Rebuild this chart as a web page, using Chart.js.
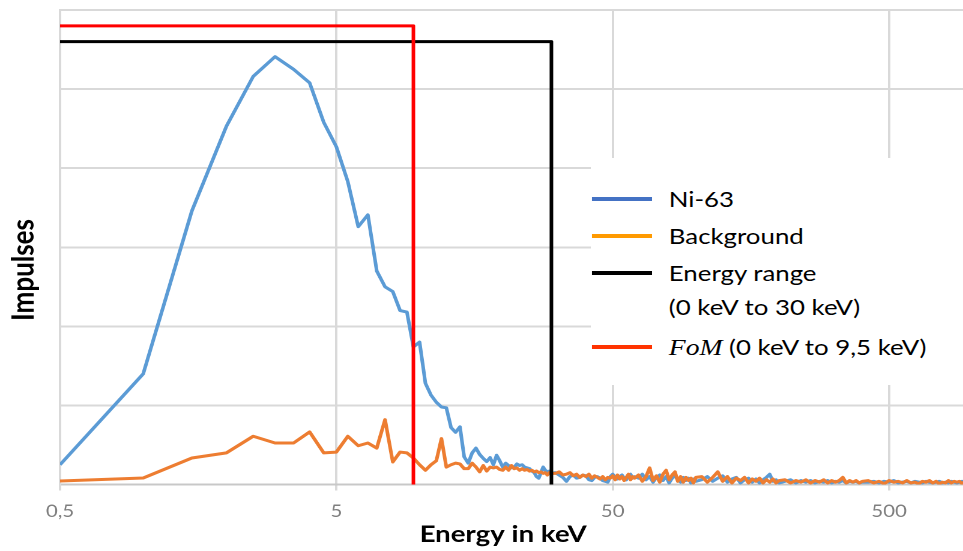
<!DOCTYPE html>
<html>
<head>
<meta charset="utf-8">
<script src="https://cdn.jsdelivr.net/npm/chart.js@4.4.1/dist/chart.umd.min.js"></script>
<style>
html,body{margin:0;padding:0;background:#fff;overflow:hidden;width:963px;height:551px;}
#wrap{position:relative;width:802px;height:551px;background:#fff;transform:scaleX(1.20075);transform-origin:0 0;}
canvas{display:block;}
#legend{position:absolute;left:492px;top:158px;width:311px;height:226px;background:#fff;font-family:Lato,"Open Sans",sans-serif;font-size:21.5px;color:#000;}
.sw{position:absolute;left:1px;width:50px;height:4px;}
.tx{position:absolute;left:65px;white-space:nowrap;height:34px;line-height:34px;}
.fom{font-family:"Liberation Serif","DejaVu Serif",serif;font-style:italic;font-size:23px;}
</style>
</head>
<body>
<div id="wrap">
<canvas id="c" width="802" height="551"></canvas>
<div id="legend">
  <div class="sw" style="top:39px;background:#4472C4"></div>
  <div class="tx" style="top:24px">Ni-63</div>
  <div class="sw" style="top:76px;background:#FF9A00"></div>
  <div class="tx" style="top:61px">Background</div>
  <div class="sw" style="top:113px;background:#000000"></div>
  <div class="tx" style="top:98px">Energy range</div>
  <div class="tx" style="top:132px">(0 keV to 30 keV)</div>
  <div class="sw" style="top:187px;background:#FF3300"></div>
  <div class="tx" style="top:172px"><span class="fom">FoM</span> (0 keV to 9,5 keV)</div>
</div>
</div>
<script>
// Energy bins (keV)
const energy = [
  0.5,1,1.5,2,2.5,3,3.5,4,4.5,5,5.5,6,6.5,7,7.5,8,8.5,9,9.5,10,10.5,11,11.5,12,12.5,13,13.5,14,14.5,
  15,15.5,16,16.5,17,17.5,18,18.5,19,19.5,20,20.5,21,21.5,22,22.5,23,23.5,24,24.5,25,25.5,26,26.5,27,27.5,28,28.5,29,29.5,30,
  31,32,33,34,35,36,37,38,39,40,41,42,43,44,45,46,47,48,49,50,51,52,53,54,55,56,57,58,59,60,
  62,64,66,68,70,72,74,76,78,80,82,84,86,88,90,92,94,96,98,100,
  105,110,115,120,125,130,135,140,145,150,155,160,165,170,175,180,185,190,195,200,
  210,220,230,240,250,260,270,280,290,300,310,320,330,340,350,360,370,380,390,400,
  420,440,460,480,500,520,540,560,580,600,620,640,660,680,700,720,740,760,780,800,820,840,860,880,900,920,940,960
];
// Ni-63 spectrum (impulses, arbitrary units)
const ni63 = [
  0.25,1.40,3.46,4.53,5.16,5.41,5.25,5.08,4.58,4.27,3.83,3.26,3.41,2.70,2.50,2.44,2.20,2.18,1.74,1.80,1.28,1.13,1.04,0.98,0.97,0.72,0.66,0.73,0.35,
  0.27,0.40,0.46,0.38,0.33,0.29,0.34,0.25,0.37,0.30,0.22,0.27,0.24,0.21,0.22,0.26,0.24,0.25,0.22,0.21,0.20,0.17,0.15,0.10,0.08,0.15,0.22,0.18,0.16,0.17,0.14,
  0.15,0.12,0.09,0.04,0.10,0.12,0.08,0.09,0.12,0.11,0.06,0.05,0.09,0.10,0.08,0.05,0.04,0.03,0.10,0.13,0.09,0.07,0.10,0.12,0.08,0.06,0.11,0.13,0.08,0.10,
  0.08,0.13,0.06,0.10,0.03,0.09,0.12,0.05,0.10,0.02,0.08,0.11,0.06,0.03,0.09,0.05,0.08,0.02,0.07,0.04,
  0.06,0.10,0.04,0.08,0.11,0.03,0.07,0.09,0.02,0.06,0.08,0.03,0.07,0.02,0.06,0.09,0.13,0.04,0.06,0.02,
  0.04,0.06,0.02,0.05,0.03,0.05,0.02,0.04,0.03,0.05,0.02,0.04,0.03,0.05,0.02,0.04,0.03,0.04,0.02,0.03,
  0.03,0.04,0.02,0.04,0.03,0.05,0.02,0.03,0.04,0.02,0.04,0.03,0.02,0.04,0.03,0.02,0.03,0.04,0.02,0.03,0.02,0.04,0.03,0.02,0.03,0.04,0.02,0.03
];
// Background spectrum
const background = [
  0.044,0.082,0.335,0.40,0.61,0.525,0.525,0.665,0.40,0.41,0.61,0.49,0.525,0.46,0.82,0.285,0.41,0.40,0.335,0.25,0.18,0.25,0.30,0.58,0.22,0.25,0.27,0.26,0.20,
  0.20,0.27,0.22,0.16,0.24,0.17,0.22,0.21,0.22,0.19,0.18,0.22,0.18,0.24,0.20,0.21,0.18,0.20,0.18,0.19,0.17,0.18,0.16,0.17,0.15,0.16,0.14,0.15,0.12,0.15,0.14,
  0.14,0.16,0.12,0.13,0.15,0.11,0.13,0.09,0.12,0.10,0.13,0.08,0.11,0.09,0.07,0.10,0.06,0.09,0.08,0.11,0.06,0.12,0.07,0.10,0.05,0.09,0.13,0.06,0.10,0.08,
  0.12,0.04,0.10,0.21,0.05,0.11,0.03,0.13,0.18,0.06,0.12,0.16,0.04,0.10,0.03,0.09,0.05,0.08,0.02,0.09,
  0.10,0.03,0.09,0.16,0.04,0.10,0.02,0.08,0.05,0.09,0.02,0.07,0.04,0.08,0.02,0.06,0.03,0.07,0.02,0.05,
  0.06,0.02,0.05,0.03,0.06,0.02,0.05,0.03,0.06,0.02,0.05,0.03,0.05,0.09,0.02,0.05,0.03,0.05,0.02,0.04,
  0.05,0.02,0.04,0.01,0.05,0.03,0.04,0.02,0.05,0.02,0.03,0.01,0.04,0.03,0.05,0.02,0.04,0.01,0.03,0.02,0.05,0.02,0.04,0.03,0.04,0.01,0.04,0.02
];
// Window markers
const rangeX = [0.5, 30, 30];
const rangeY = [5.6, 5.6, 0];
const fomX = [0.5, 9.5, 9.5];
const fomY = [5.8, 5.8, 0];
// Axis ticks and titles
const xTickValues = [0.5, 5, 50, 500];
const xTickLabels = ['0,5', '5', '50', '500'];
const xTitle = 'Energy in keV';
const yTitleText = 'Impulses';

const pts = (xs, ys) => xs.map((x, i) => ({x: x, y: ys[i]}));

const axisTitles = {
  id: 'axisTitles',
  afterDraw(chart) {
    const c = chart.ctx;
    c.save();
    c.fillStyle = '#000';
    c.font = 'bold 23px Lato, "Open Sans", sans-serif';
    c.textAlign = 'center';
    c.textBaseline = 'alphabetic';
    c.fillText(xTitle, 419, 542);
    c.translate(28, 270);
    c.rotate(-Math.PI / 2);
    c.font = 'bold 26px Lato, "Open Sans", sans-serif';
    c.textBaseline = 'alphabetic';
    c.fillText(yTitleText, 0, 0);
    c.restore();
  }
};

new Chart(document.getElementById('c'), {
  type: 'line',
  data: {
    datasets: [
      {label: 'FoM (0 keV to 9,5 keV)', data: pts(fomX, fomY), borderColor: '#FF0000', borderWidth: 3, order: 0},
      {label: 'Energy range (0 keV to 30 keV)', data: pts(rangeX, rangeY), borderColor: '#000000', borderWidth: 3, order: 1},
      {label: 'Background', data: pts(energy, background), borderColor: '#ED7D31', borderWidth: 3, order: 2},
      {label: 'Ni-63', data: pts(energy, ni63), borderColor: '#5B9BD5', borderWidth: 3, order: 3}
    ]
  },
  options: {
    responsive: false,
    animation: false,
    devicePixelRatio: 2,
    events: [],
    layout: {padding: {left: 50, top: 10, right: 0, bottom: 0}},
    elements: {point: {radius: 0}, line: {tension: 0, borderJoinStyle: 'round'}},
    plugins: {legend: {display: false}, tooltip: {enabled: false}},
    scales: {
      x: {
        type: 'logarithmic',
        min: 0.5,
        max: 926,
        afterBuildTicks(s) { s.ticks = xTickValues.map(v => ({value: v})); },
        afterFit(s) { s.height = 66.5; },
        ticks: {
          autoSkip: false, maxRotation: 0, color: '#7F7F7F', padding: 11,
          font: {family: 'Lato, "Open Sans", sans-serif', size: 17},
          callback: (v) => { const i = xTickValues.indexOf(v); return i >= 0 ? xTickLabels[i] : ''; }
        },
        grid: {color: '#D9D9D9', lineWidth: 2, tickLength: 6, drawTicks: true},
        border: {color: '#C8C8C8', width: 2},
        title: {display: false}
      },
      y: {
        min: 0, max: 6,
        ticks: {display: false, stepSize: 1},
        grid: {color: '#D9D9D9', lineWidth: 2, drawTicks: false},
        border: {color: '#D9D9D9', width: 2}
      }
    }
  },
  plugins: [axisTitles]
});
</script>
</body>
</html>
